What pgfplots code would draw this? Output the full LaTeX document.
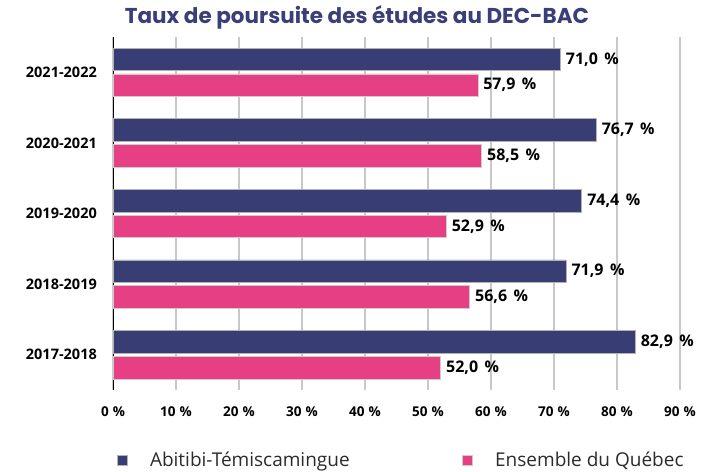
\documentclass[border=0pt]{standalone}
\usepackage{pgfplots}
\pgfplotsset{compat=1.18}
\usepackage{fontspec}
\setmainfont{Open Sans}
\newfontfamily\titlefont{Poppins}
\definecolor{abt}{HTML}{383D73}
\definecolor{qc}{HTML}{E63F84}
\definecolor{ttl}{HTML}{3A3F7A}
\definecolor{gridc}{HTML}{C8C8C8}
\definecolor{legtxt}{HTML}{2B2B2B}
\begin{document}
\begin{tikzpicture}[x=1pt,y=1pt]
\useasboundingbox (0,0) rectangle (717,471);
\begin{axis}[
  at={(113pt,81pt)}, anchor=south west,
  scale only axis, width=567pt, height=353pt,
  xmin=0, xmax=90, ymin=-0.5, ymax=4.5,
  xbar, bar width=0.32,
  clip=false,
  axis lines*=left,
  x axis line style={draw=none},
  y axis line style={black, line width=1pt, -},
  major tick length=0pt,
  xtick={0,10,...,90},
  xmajorgrids, grid style={gridc, line width=1.3pt},
  xticklabel={\pgfmathprintnumber[assume math mode=true]{\tick}\hspace{0.3em}\%},
  x tick label style={font=\fontsize{13.5}{15}\selectfont\bfseries, anchor=center, yshift=-22pt, inner sep=0pt},
  ytick={0,1,2,3,4},
  yticklabels={2017-2018,2018-2019,2019-2020,2020-2021,2021-2022},
  y tick label style={font=\fontsize{14.5}{16}\selectfont\bfseries, anchor=east, xshift=-16pt, inner sep=0pt},
  nodes near coords={\pgfmathprintnumber[fixed,fixed zerofill,precision=1,use comma,assume math mode=true]{\pgfplotspointmeta}\hspace{0.4em}\%},
  nodes near coords align=horizontal,
  every node near coord/.append style={font=\fontsize{16}{18}\selectfont\bfseries, black, xshift=2pt},
  legend columns=2,
  legend style={at={(0.508,-0.198)}, anchor=center, draw=none, fill=none,
    font=\fontsize{19}{21}\selectfont, text=legtxt, inner sep=0pt,
    /tikz/every even column/.append style={column sep=110pt}},
  legend image code/.code={\fill[#1] (0pt,-5pt) rectangle (10pt,5pt); \path (31pt,0pt);},
]
\addplot[fill=abt, draw=gray!60, line width=0.5pt, bar shift=0.183] coordinates {(82.9,0) (71.9,1) (74.4,2) (76.7,3) (71.0,4)};
\addlegendentry{Abitibi-Témiscamingue}
\addplot[fill=qc, draw=gray!40, line width=0.5pt, bar shift=-0.183] coordinates {(52.0,0) (56.6,1) (52.9,2) (58.5,3) (57.9,4)};
\addlegendentry{Ensemble du Québec}
\end{axis}
\node[font=\titlefont\fontsize{21.5}{24}\selectfont\bfseries, text=ttl] at (357,454) {Taux de poursuite des études au DEC-BAC};
\end{tikzpicture}
\end{document}
